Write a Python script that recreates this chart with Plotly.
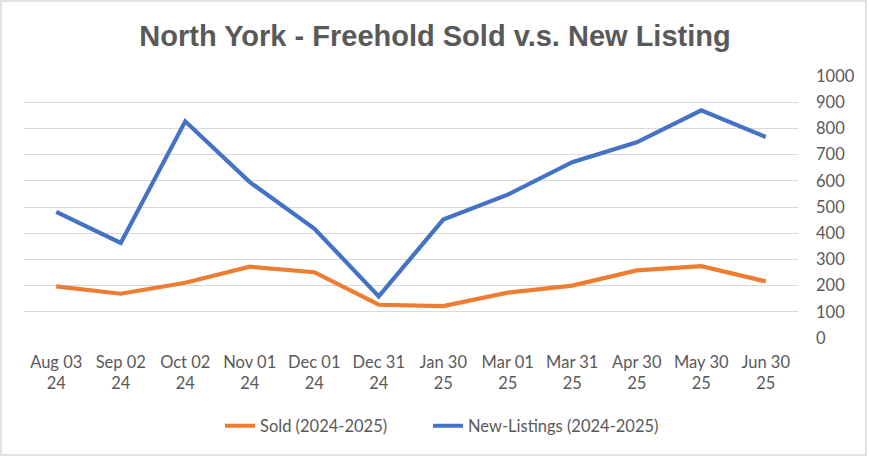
import plotly.graph_objects as go

categories = ["Aug 03<br>24", "Sep 02<br>24", "Oct 02<br>24", "Nov 01<br>24", "Dec 01<br>24", "Dec 31<br>24",
              "Jan 30<br>25", "Mar 01<br>25", "Mar 31<br>25", "Apr 30<br>25", "May 30<br>25", "Jun 30<br>25"]
sold = [197, 169, 211, 272, 251, 127, 122, 173, 200, 258, 274, 216]
new_listings = [481, 363, 827, 595, 418, 159, 452, 547, 671, 747, 869, 767]
y_ticks = list(range(0, 1001, 100))

W, H = 869, 458
ML, MR, MT, MB = 24, 71, 76, 120

fig = go.Figure()
fig.add_trace(go.Scatter(x=categories, y=sold, mode="lines", name="Sold (2024-2025)",
                         line=dict(color="#ED7D31", width=4.2), legend="legend"))
fig.add_trace(go.Scatter(x=categories, y=new_listings, mode="lines", name="New-Listings (2024-2025)",
                         line=dict(color="#4472C4", width=4.2), legend="legend2"))

pw = W - ML - MR
ph = H - MT - MB
leg_common = dict(orientation="h", xanchor="left", y=(H - MB - 426) / ph, yanchor="middle",
                  font=dict(size=16.5, color="#595959"), itemwidth=30, bgcolor="rgba(0,0,0,0)")
fig.update_layout(
    width=W, height=H,
    margin=dict(l=ML, r=MR, t=MT, b=MB, autoexpand=False),
    paper_bgcolor="white", plot_bgcolor="white",
    font=dict(family="Lato, Liberation Sans, sans-serif", color="#595959", size=16),
    title=dict(text="<b>North York - Freehold Sold v.s. New Listing</b>",
               x=435 / W, xanchor="center", y=1 - 36 / H, yanchor="middle",
               font=dict(family="Liberation Sans, Arial, sans-serif",
                         size=29, color="#595959")),
    xaxis=dict(type="category", range=[-0.5, len(categories) - 0.5],
               showgrid=False, showline=False, zeroline=False, ticks="",
               tickfont=dict(size=16.5, color="#595959"), ticklabelstandoff=12),
    yaxis=dict(side="right", range=[0, 1000], tickvals=y_ticks, showgrid=True,
               gridcolor="#D9D9D9", gridwidth=1.3, zeroline=False, showline=False, ticks="",
               tickfont=dict(size=16.5, color="#595959"), ticklabelstandoff=17),
    legend=dict(x=(220 - ML) / pw, **leg_common),
    legend2=dict(x=(428 - ML) / pw, **leg_common),
    showlegend=True,
)
fig.add_shape(type="rect", xref="paper", yref="paper",
              x0=(1 - ML) / pw, x1=(866 - ML) / pw,
              y0=(H - MB - 455) / ph, y1=(H - MB - 1) / ph,
              line=dict(color="#D9D9D9", width=1.5), fillcolor="rgba(0,0,0,0)", layer="below")
fig.write_html("out.html", config={"displayModeBar": False},
               post_script="document.body.style.margin='0';")
